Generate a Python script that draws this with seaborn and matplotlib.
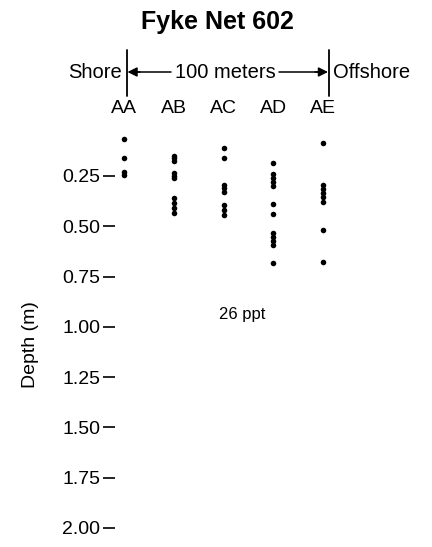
import matplotlib
matplotlib.use("Agg")
import matplotlib.pyplot as plt
import seaborn as sns
import pandas as pd

# ---- data ----
sites = ["AA", "AB", "AC", "AD", "AE"]
depth_AA = [0.066, 0.159, 0.228, 0.244]
depth_AB = [0.149, 0.162, 0.176, 0.234, 0.249, 0.262, 0.361, 0.386, 0.411, 0.436]
depth_AC = [0.109, 0.162, 0.293, 0.310, 0.328, 0.395, 0.418, 0.444]
depth_AD = [0.187, 0.242, 0.260, 0.280, 0.300, 0.390, 0.441, 0.535, 0.555, 0.575, 0.595, 0.685]
depth_AE = [0.088, 0.295, 0.315, 0.335, 0.355, 0.381, 0.519, 0.677]
y_ticks = [0.25, 0.50, 0.75, 1.00, 1.25, 1.50, 1.75, 2.00]
title = "Fyke Net 602"
salinity_note = "26 ppt"

rows = []
for s, vals in zip(sites, [depth_AA, depth_AB, depth_AC, depth_AD, depth_AE]):
    for v in vals:
        rows.append({"site": s, "depth": v})
df = pd.DataFrame(rows)

sns.set_style("white")
plt.rcParams["font.family"] = ["Liberation Sans", "DejaVu Sans"]
plt.rcParams.update({"text.color": "black", "axes.labelcolor": "black",
                     "xtick.color": "black", "ytick.color": "black"})

W, H = 432, 547
fig = plt.figure(figsize=(W / 100, H / 100), dpi=100)

def fx(x):
    return x / W

def fy(y):
    return 1 - y / H

ax_left, ax_right = 115, 360
ax_top, ax_bot = 125.7, 528
ax = fig.add_axes([fx(ax_left), fy(ax_bot), (ax_right - ax_left) / W, (ax_bot - ax_top) / H])

sns.stripplot(data=df, x="site", y="depth", order=sites, jitter=False,
              color="black", size=4.0, linewidth=0, ax=ax)

# x mapping: AA at px 124, AE at px 323
step = (323 - 124) / 4
ax.set_xlim((ax_left - 124) / step, (ax_right - 124) / step)
ax.set_ylim(2.0, 0.0)
for sp in ax.spines.values():
    sp.set_visible(False)

ax.set_yticks(y_ticks, labels=[f"{t:.2f}" for t in y_ticks])
ax.tick_params(axis="y", left=True, length=8.5, width=1.2, pad=2,
               labelsize=14, color="black", labelcolor="black")
ax.xaxis.set_ticks_position("top")
ax.xaxis.set_label_position("top")
ax.set_xticks(range(len(sites)), labels=sites)
ax.tick_params(axis="x", top=True, bottom=False, labeltop=True, labelbottom=False,
               length=0, pad=6, labelsize=14, labelcolor="black")
ax.set_xlabel("")
ax.set_ylabel("Depth (m)", fontsize=14, color="black")
ax.yaxis.set_label_coords(-0.31, 0.455)

# salinity note (between AC and AD, below the data)
ax.text((242 - 124) / step, 0.94, salinity_note, ha="center",
        va="center", fontsize=12, color="black")

# title and header
fig.text(fx(217.5), fy(22), title, ha="center", va="center",
         fontsize=18, fontweight="bold", color="black")
fig.text(fx(122), fy(72), "Shore", ha="right", va="center", fontsize=14.5, color="black")
fig.text(fx(333), fy(72), "Offshore", ha="left", va="center", fontsize=14.5, color="black")
fig.text(fx(225), fy(72), "100 meters", ha="center", va="center", fontsize=14.5, color="black")
for xv in (127, 328.5):
    fig.add_artist(plt.Line2D([fx(xv), fx(xv)], [fy(50), fy(96)],
                              color="black", lw=1.3))
fig.add_artist(plt.Line2D([fx(130), fx(171)], [fy(72), fy(72)], color="black", lw=1.1))
fig.add_artist(plt.Line2D([fx(279), fx(325)], [fy(72), fy(72)], color="black", lw=1.1))
ax.annotate("", xy=(fx(127.5), fy(72)), xytext=(fx(140), fy(72)),
            xycoords="figure fraction", textcoords="figure fraction",
            arrowprops=dict(arrowstyle="-|>", color="black", lw=1.1,
                            mutation_scale=14, shrinkA=0, shrinkB=0))
ax.annotate("", xy=(fx(328), fy(72)), xytext=(fx(315), fy(72)),
            xycoords="figure fraction", textcoords="figure fraction",
            arrowprops=dict(arrowstyle="-|>", color="black", lw=1.1,
                            mutation_scale=14, shrinkA=0, shrinkB=0))

fig.savefig("out.png", dpi=100, facecolor="white")
